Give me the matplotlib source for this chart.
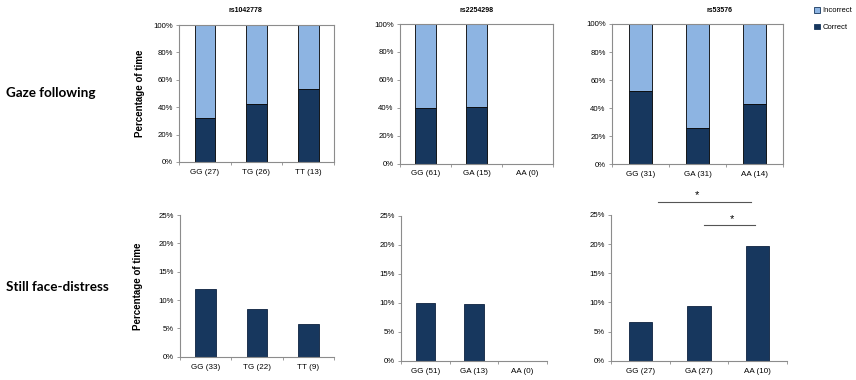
import numpy as np
import matplotlib
matplotlib.use("Agg")
import matplotlib.pyplot as plt
from matplotlib.patches import Patch

plt.rcParams['font.family'] = ['Liberation Sans', 'DejaVu Sans']

W, H = 856, 380

# data (percent)
snps = ["rs1042778", "rs2254298", "rs53576"]
gaze_labels = [["GG (27)", "TG (26)", "TT (13)"],
               ["GG (61)", "GA (15)", "AA (0)"],
               ["GG (31)", "GA (31)", "AA (14)"]]
gaze_correct = [[32.0, 42.0, 53.5],
                [39.5, 40.2, None],
                [52.4, 25.7, 43.0]]
gaze_incorrect = [[68.0, 58.0, 46.5],
                  [60.5, 59.8, None],
                  [47.6, 74.3, 57.0]]

still_labels = [["GG (33)", "TG (22)", "TT (9)"],
                ["GG (51)", "GA (13)", "AA (0)"],
                ["GG (27)", "GA (27)", "AA (10)"]]
still_values = [[12.0, 8.5, 5.7],
                [10.0, 9.8, None],
                [6.7, 9.4, 19.6]]

dark = "#17375E"
light = "#8DB4E2"
spine_col = "#8c8c8c"

# axes boxes in pixels: left, right, top, bottom
top_boxes = [(179, 334, 25, 162), (400, 553, 24, 163.5), (612, 783, 24, 164.3)]
bot_boxes = [(180, 334, 215, 356.7), (401, 547, 215.7, 360.7), (611, 787, 215, 360.7)]

fig = plt.figure(figsize=(W / 100, H / 100), dpi=100)


def make_ax(box):
    l, r, t, b = box
    return fig.add_axes([l / W, 1 - b / H, (r - l) / W, (b - t) / H])


def style_axes(ax, labels, frame):
    x = np.arange(len(labels))
    ax.set_xlim(-0.5, len(labels) - 0.5)
    ax.set_xticks(x)
    ax.set_xticklabels(labels, fontsize=5.8)
    ax.set_xticks(np.arange(-0.5, len(labels)), minor=True)
    ax.tick_params(axis='x', which='major', length=0, pad=5)
    ax.tick_params(axis='x', which='minor', length=2.5, color=spine_col, width=0.6)
    ax.tick_params(axis='y', length=2.5, color=spine_col, width=0.6, labelsize=5.6, pad=2)
    for s in ax.spines.values():
        s.set_color(spine_col)
        s.set_linewidth(0.8)
    if not frame:
        ax.spines['top'].set_visible(False)
        ax.spines['right'].set_visible(False)


# top row: stacked bars
top_axes = []
for i in range(3):
    ax = make_ax(top_boxes[i])
    for j, (c, w) in enumerate(zip(gaze_correct[i], gaze_incorrect[i])):
        if c is None:
            continue
        ax.bar(j, c, width=0.4, color=dark, edgecolor="black", linewidth=0.6)
        ax.bar(j, w, bottom=c, width=0.4, color=light, edgecolor="black", linewidth=0.6)
    ax.set_ylim(0, 100)
    ax.set_yticks(np.arange(0, 101, 20))
    ax.set_yticklabels([f"{v}%" for v in range(0, 101, 20)])
    style_axes(ax, gaze_labels[i], frame=True)
    top_axes.append(ax)

# bottom row: simple bars
bot_axes = []
for i in range(3):
    ax = make_ax(bot_boxes[i])
    for j, v in enumerate(still_values[i]):
        if v is None:
            continue
        ax.bar(j, v, width=0.4, color=dark, edgecolor="#0d2240", linewidth=0.6)
    ax.set_ylim(0, 25)
    ax.set_yticks(np.arange(0, 26, 5))
    ax.set_yticklabels([f"{v}%" for v in range(0, 26, 5)])
    style_axes(ax, still_labels[i], frame=False)
    bot_axes.append(ax)

# y labels
for ax, xpos in [(top_axes[0], -0.22), (bot_axes[0], -0.24)]:
    ax.set_ylabel("Percentage of time", fontsize=7, fontweight="bold")
    ax.yaxis.set_label_coords(xpos, 0.5)

# titles
title_pos = [245.5, 476.7, 719.5]
for name, xp in zip(snps, title_pos):
    fig.text(xp / W, 1 - 10 / H, name, fontsize=5, fontweight="bold",
             ha="center", va="center")

# row labels
fig.text(6 / W, 1 - 93.3 / H, "Gaze following", fontsize=9.7, fontweight="bold",
         family=["Lato", "DejaVu Sans"], ha="left", va="center")
fig.text(6 / W, 1 - 287.3 / H, "Still face-distress", fontsize=9.7, fontweight="bold",
         family=["Lato", "DejaVu Sans"], ha="left", va="center")

# significance markers on rs53576 still face panel
ax = bot_axes[2]
sig_lines = [(0.30, 1.88, 27.2), (1.09, 1.96, 23.3)]
sig_stars = [(0.97, 28.4), (1.56, 24.3)]
for x0, x1, y in sig_lines:
    ax.plot([x0, x1], [y, y], color="#555555", linewidth=0.8, clip_on=False)
for xs, ys in sig_stars:
    ax.text(xs, ys, "*", fontsize=8, ha="center", va="center")

# legend
handles = [Patch(facecolor=light, edgecolor=dark, linewidth=0.6, label="Incorrect"),
           Patch(facecolor=dark, edgecolor=dark, linewidth=0.6, label="Correct")]
fig.legend(handles=handles, loc="upper left", bbox_to_anchor=(810 / W, 1 - 3 / H),
           frameon=False, fontsize=5.5, handlelength=0.8, handleheight=0.8,
           handletextpad=0.3, labelspacing=1.2, borderpad=0)

fig.savefig("out.png", dpi=100)
